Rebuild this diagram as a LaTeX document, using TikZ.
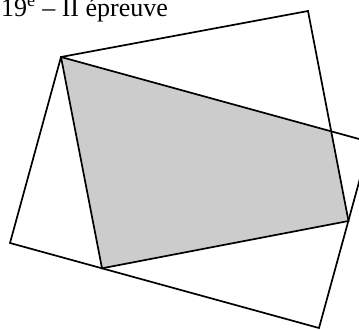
\documentclass[tikz,border=0pt]{standalone}
\usepackage{fontspec}
\setmainfont{Liberation Serif}
\begin{document}
\begin{tikzpicture}[x=1pt,y=-1pt,
  edge/.style={line width=1.7pt,line join=miter},
  shade/.style={fill=black!20}]
\useasboundingbox (0,0) rectangle (359,330);
\clip (0,0) rectangle (359,330);
\coordinate (A) at (61,57);
\coordinate (T) at (308,11);
\coordinate (C) at (348.5,221);
\coordinate (B) at (102,268.3);
\coordinate (L) at (10,243);
\coordinate (Bt) at (319,328);
\coordinate (R) at (370,142);
\coordinate (P) at (intersection of A--R and T--C);
\fill[shade] (A) -- (P) -- (C) -- (B) -- cycle;
\draw[edge] (A) -- (T) -- (C) -- (B) -- cycle;
\draw[edge] (A) -- (L) -- (Bt) -- (R) -- cycle;
\node[anchor=base west,inner sep=0pt,font=\fontsize{26}{30}\selectfont] (title) at (1,16) {19\textsuperscript{e} – II épreuve};
\end{tikzpicture}
\end{document}
